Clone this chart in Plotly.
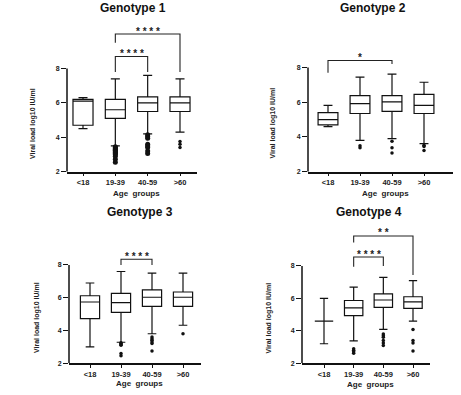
import plotly.graph_objects as go

# ---------------- data ----------------
categories = ["<18", "19-39", "40-59", ">60"]
titles = ["Genotype 1", "Genotype 2", "Genotype 3", "Genotype 4"]

g1_q1 = [4.7, 5.1, 5.5, 5.5]
g1_median = [6.1, 5.6, 6.0, 6.0]
g1_q3 = [6.2, 6.2, 6.35, 6.35]
g1_low = [4.5, 3.5, 4.2, 4.3]
g1_high = [6.3, 7.4, 7.6, 7.4]
g1_outliers = [[], [3.45, 3.4, 3.35, 3.3, 3.25, 3.2, 3.15, 3.1, 3.05, 3.0, 2.9, 2.73, 2.55],
               [4.15, 4.05, 3.95, 3.6, 3.5, 3.4, 3.2, 3.05], [3.75, 3.6, 3.4]]

g2_q1 = [4.7, 5.35, 5.47, 5.35]
g2_median = [5.0, 5.92, 6.02, 5.82]
g2_q3 = [5.4, 6.38, 6.38, 6.45]
g2_low = [4.6, 3.8, 3.9, 3.62]
g2_high = [5.82, 7.45, 7.62, 7.15]
g2_outliers = [[], [3.5, 3.38], [3.75, 3.38, 3.08], [3.52, 3.45, 3.22]]

g3_q1 = [4.72, 5.1, 5.47, 5.47]
g3_median = [5.74, 5.7, 6.03, 6.03]
g3_q3 = [6.12, 6.26, 6.48, 6.35]
g3_low = [3.0, 3.28, 3.8, 4.32]
g3_high = [6.9, 7.6, 7.5, 7.5]
g3_outliers = [[], [3.25, 3.2, 3.15, 3.1, 2.6, 2.45], [3.6, 3.5, 3.4, 3.3, 3.2, 2.75], [3.8]]

g4_q1 = [4.6, 4.93, 5.44, 5.38]
g4_median = [4.6, 5.42, 5.9, 5.79]
g4_q3 = [4.6, 5.87, 6.28, 6.1]
g4_low = [3.2, 3.38, 4.09, 4.6]
g4_high = [6.0, 6.7, 7.3, 7.1]
g4_outliers = [[], [2.9, 2.8, 2.7, 2.62], [3.8, 3.7, 3.6, 3.4, 3.25, 3.1], [4.08, 3.4, 3.25, 2.75]]

# significance brackets: (left cat, right cat, left leg end, right leg end, top, label)
g1_sig = [("19-39", "40-59", 7.8, 7.8, 8.7, "* * * *"), ("19-39", ">60", 9.5, 7.8, 10.0, "* * * *")]
g2_sig = [("<18", "40-59", 7.7, 8.2, 8.4, "*")]
g3_sig = [("19-39", "40-59", 8.0, 8.0, 8.35, "* * * *")]
g4_sig = [("19-39", "40-59", 7.95, 8.0, 8.55, "* * * *"), ("19-39", ">60", 9.45, 7.45, 9.85, "* *")]

yticks = [2, 4, 6, 8]

groups = [
    (g1_q1, g1_median, g1_q3, g1_low, g1_high, g1_outliers, g1_sig),
    (g2_q1, g2_median, g2_q3, g2_low, g2_high, g2_outliers, g2_sig),
    (g3_q1, g3_median, g3_q3, g3_low, g3_high, g3_outliers, g3_sig),
    (g4_q1, g4_median, g4_q3, g4_low, g4_high, g4_outliers, g4_sig),
]

# ---------------- layout geometry (pixels) ----------------
W, H = 461, 395
panels = [
    dict(ax0=67, ax1=197, c0=83, c3=180, y2=173, y8=69, top=22, ytx=33, xtitle_y=195),
    dict(ax0=308, ax1=453, c0=328, c3=424, y2=173, y8=68, top=22, ytx=273, xtitle_y=195),
    dict(ax0=69, ax1=201, c0=90, c3=183, y2=366, y8=267, top=222, ytx=37, xtitle_y=386),
    dict(ax0=302, ax1=430, c0=324, c3=413, y2=366, y8=268, top=222, ytx=269, xtitle_y=387),
]
title_pos = [(133, 8), (373, 8), (140, 214), (369, 214)]
FONT = "Liberation Sans, Arial, sans-serif"

fig = go.Figure()
layout = dict(width=W, height=H, margin=dict(l=0, r=0, t=0, b=0),
              paper_bgcolor="white", plot_bgcolor="white", showlegend=False,
              shapes=[], annotations=[])

for i, (p, g) in enumerate(zip(panels, groups)):
    q1, med, q3, lo, hi, outs, sig = g
    n = "" if i == 0 else str(i + 1)
    xa, ya = "x" + n, "y" + n
    s = (p["c3"] - p["c0"]) / 3.0
    xr = [(p["ax0"] - p["c0"]) / s, (p["ax1"] - p["c0"]) / s]
    u = (p["y2"] - p["y8"]) / 6.0
    yr = [2, 2 + (p["y2"] - p["top"]) / u]

    fig.add_trace(go.Box(
        x=categories, q1=q1, median=med, q3=q3, lowerfence=lo, upperfence=hi,
        xaxis=xa, yaxis=ya, fillcolor="white", line=dict(color="#111", width=1.2),
        width=0.62, whiskerwidth=0.45, boxpoints=False, hoverinfo="skip"))
    for c, o in zip(categories, outs):
        if o:
            fig.add_trace(go.Scatter(
                x=[c] * len(o), y=o, mode="markers", xaxis=xa, yaxis=ya,
                marker=dict(symbol="circle", size=3.5 if len(o) < 8 else 5, color="#111"),
                cliponaxis=False, hoverinfo="skip"))

    layout["xaxis" + n] = dict(
        domain=[p["ax0"] / W, p["ax1"] / W], anchor=ya, type="category",
        categoryorder="array", categoryarray=categories, range=xr,
        showline=True, linecolor="#111", linewidth=1.5, ticks="outside",
        ticklen=3, tickwidth=1.2, tickcolor="#111", showgrid=False, zeroline=False,
        tickfont=dict(family=FONT, size=7.5, color="#222", weight="bold"))
    layout["yaxis" + n] = dict(
        domain=[1 - p["y2"] / H, 1 - p["top"] / H], anchor=xa, range=yr,
        tickvals=yticks, showline=False, ticks="outside", ticklen=5, tickwidth=1.2,
        tickcolor="#111", showgrid=False, zeroline=False,
        tickfont=dict(family=FONT, size=7, color="#222", weight="bold"))

    # y axis line only from 2 to 8
    layout["shapes"].append(dict(type="line", xref="paper", yref=ya,
                                 x0=p["ax0"] / W, x1=p["ax0"] / W, y0=2, y1=8,
                                 line=dict(color="#111", width=1.5)))
    # significance brackets
    for (a, b, la, lb, top, lab) in sig:
        ia, ib = categories.index(a), categories.index(b)
        layout["shapes"].append(dict(
            type="path", xref=xa, yref=ya,
            path=f"M {ia} {la} L {ia} {top} L {ib} {top} L {ib} {lb}",
            line=dict(color="#222", width=1.1)))
        layout["annotations"].append(dict(
            x=(ia + ib) / 2.0, y=top, xref=xa, yref=ya, text=lab, showarrow=False,
            yanchor="middle", yshift=3,
            font=dict(family=FONT, size=10, color="#222", weight="bold")))

    # titles
    tx, ty = title_pos[i]
    layout["annotations"].append(dict(
        x=tx / W, y=1 - ty / H, xref="paper", yref="paper", text=titles[i],
        showarrow=False, xanchor="center", yanchor="middle",
        font=dict(family=FONT, size=12, color="#111", weight="bold")))
    layout["annotations"].append(dict(
        x=p["ytx"] / W, y=1 - (p["y2"] + p["y8"]) / 2 / H - 0.01, xref="paper", yref="paper",
        text="Viral load log10 IU/ml", textangle=-90, showarrow=False,
        xanchor="center", yanchor="middle",
        font=dict(family=FONT, size=7, color="#222", weight="bold")))
    layout["annotations"].append(dict(
        x=(p["ax0"] + p["ax1"]) / 2 / W + 0.01, y=1 - p["xtitle_y"] / H, xref="paper", yref="paper",
        text="Age  groups", showarrow=False, xanchor="center", yanchor="middle",
        font=dict(family=FONT, size=8, color="#222", weight="bold")))

fig.update_layout(**layout)
fig.write_html("out.html", config={"displayModeBar": False},
               post_script="document.body.style.margin='0';document.body.style.overflow='hidden';")
